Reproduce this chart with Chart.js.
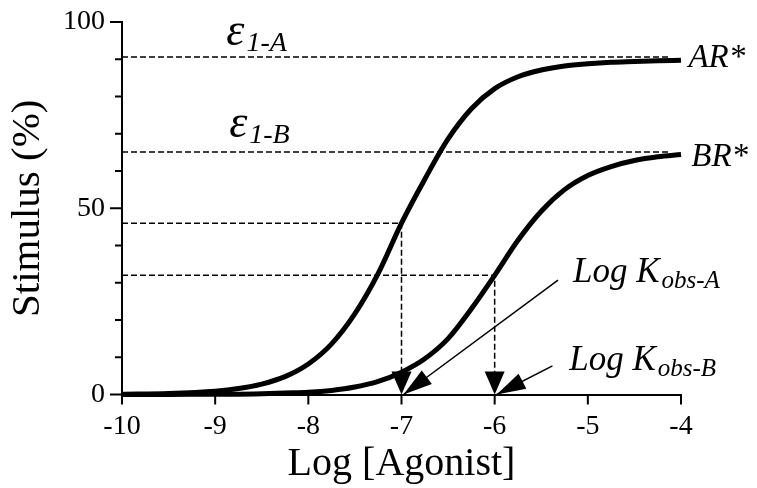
<!DOCTYPE html>
<html>
<head>
<meta charset="utf-8">
<script src="https://cdn.jsdelivr.net/npm/chart.js@4.4.0/dist/chart.umd.min.js"></script>
<style>
  html, body { margin: 0; padding: 0; background: #fff; }
  #wrap { width: 757px; height: 488px; }
</style>
</head>
<body>
<div id="wrap"><canvas id="stimChart" width="757" height="488"></canvas></div>
<script>
// Log [Agonist] sample points and stimulus (%) for the two active states
const logAgonist = [-10, -9.5, -9, -8.75, -8.5, -8.25, -8, -7.75, -7.5, -7.25, -7, -6.75, -6.5, -6.25, -6, -5.75, -5.5, -5.25, -5, -4.75, -4.5, -4.25, -4];
const stimulusAR = [0.1, 0.3, 0.9, 1.6, 2.8, 4.8, 8.2, 13.6, 21.7, 32.5, 46, 57.8, 68.6, 76.7, 82.1, 85.3, 87.1, 88.2, 88.8, 89.2, 89.4, 89.6, 89.7];
const stimulusBR = [0, 0, 0.1, 0.1, 0.2, 0.4, 0.6, 1.1, 2.0, 3.5, 6, 9.6, 15, 23, 32, 41.4, 49.2, 55, 58.8, 61.2, 62.8, 63.8, 64.4];

// efficacy plateaus, half-maximal levels and the two log Kobs values
const epsilonLevels = [90.6, 65.1];
const halfLevels = [46, 32];
const logKobs = [-7, -6];
const guideEnd = -4.12;
const arrowStarts = [[-5.32, 30.7], [-5.38, 7.7]];

const xTicks = [-10, -9, -8, -7, -6, -5, -4];
const yLabelled = [0, 50, 100];

const SERIF = "'Liberation Serif', 'Times New Roman', serif";

const pts = (xs, ys) => xs.map((v, i) => ({x: v, y: ys[i]}));

const guideStyle = {
  borderColor: '#000', borderWidth: 1.5, borderDash: [6, 3],
  pointRadius: 0, tension: 0, clip: false
};
const curveStyle = {
  borderColor: '#000', borderWidth: 5, pointRadius: 0,
  cubicInterpolationMode: 'monotone', clip: false, borderCapStyle: 'butt'
};

const datasets = [
  Object.assign({label: 'AR*', data: pts(logAgonist, stimulusAR)}, curveStyle),
  Object.assign({label: 'BR*', data: pts(logAgonist, stimulusBR)}, curveStyle)
];
epsilonLevels.forEach(lv => {
  datasets.push(Object.assign({data: [{x: -10, y: lv}, {x: guideEnd, y: lv}]}, guideStyle));
});
halfLevels.forEach((lv, i) => {
  datasets.push(Object.assign({data: [{x: -10, y: lv}, {x: logKobs[i], y: lv}, {x: logKobs[i], y: 6}]}, guideStyle));
});

// text labels: [main, subscript, x, y, main size, sub size]
const labels = [
  ['\u03b5', '1-A', -8.88, 93.8, 46, 28],
  ['\u03b5', '1-B', -8.85, 69.1, 46, 28],
  ['AR*', '', -3.92, 88.0, 33, 0],
  ['BR*', '', -3.89, 61.3, 33, 0],
  ['Log K', 'obs-A', -5.16, 30.2, 35, 25],
  ['Log K', 'obs-B', -5.2, 6.5, 35, 25]
];

function filledHead(ctx, tipX, tipY, fromX, fromY, len, half) {
  const a = Math.atan2(tipY - fromY, tipX - fromX);
  const bx = tipX - len * Math.cos(a), by = tipY - len * Math.sin(a);
  ctx.beginPath();
  ctx.moveTo(tipX, tipY);
  ctx.lineTo(bx + half * Math.sin(a), by - half * Math.cos(a));
  ctx.lineTo(bx - half * Math.sin(a), by + half * Math.cos(a));
  ctx.closePath();
  ctx.fill();
}

const annotate = {
  id: 'annotate',
  afterDraw(chart) {
    const {ctx, scales: {x, y}} = chart;
    ctx.save();
    ctx.strokeStyle = '#000';
    ctx.fillStyle = '#000';
    ctx.lineWidth = 2;

    // axis tick marks: long at labelled values, short in between
    const y0 = y.getPixelForValue(0), xl = x.getPixelForValue(-10);
    y.ticks.forEach(t => {
      const py = y.getPixelForValue(t.value);
      const len = yLabelled.includes(t.value) ? 12 : 7;
      ctx.beginPath(); ctx.moveTo(xl - len, py); ctx.lineTo(xl, py); ctx.stroke();
    });
    xTicks.forEach(v => {
      const px = x.getPixelForValue(v);
      ctx.beginPath(); ctx.moveTo(px, y0); ctx.lineTo(px, y0 + 10); ctx.stroke();
    });

    // downward arrowheads on the axis at each log Kobs
    logKobs.forEach(v => {
      const px = x.getPixelForValue(v);
      filledHead(ctx, px, y0, px, y0 - 40, 23, 10);
    });

    // pointers from the Log Kobs labels
    ctx.lineWidth = 1.5;
    arrowStarts.forEach((s, i) => {
      const sx = x.getPixelForValue(s[0]), sy = y.getPixelForValue(s[1]);
      const tx = x.getPixelForValue(logKobs[i]) + 2, ty = y0;
      ctx.beginPath(); ctx.moveTo(sx, sy); ctx.lineTo(tx, ty); ctx.stroke();
      filledHead(ctx, tx, ty, sx, sy, 29, 8.5);
    });

    // italic labels with subscripts
    ctx.textBaseline = 'alphabetic';
    ctx.textAlign = 'left';
    labels.forEach(([main, sub, lx, ly, size, subSize]) => {
      const px = x.getPixelForValue(lx), py = y.getPixelForValue(ly);
      ctx.font = `italic ${size}px ${SERIF}`;
      ctx.fillText(main, px, py);
      if (sub) {
        const w = ctx.measureText(main).width;
        ctx.font = `italic ${subSize}px ${SERIF}`;
        ctx.fillText(sub, px + w + 2, py + 6);
      }
    });
    ctx.restore();
  }
};

new Chart(document.getElementById('stimChart'), {
  type: 'scatter',
  data: {datasets: datasets.map(d => Object.assign({showLine: true}, d))},
  options: {
    responsive: false,
    animation: false,
    layout: {padding: {top: 22, right: 76, left: 0, bottom: 0}},
    plugins: {legend: {display: false}, tooltip: {enabled: false}},
    scales: {
      x: {
        type: 'linear', min: -10, max: -4,
        afterFit: s => { s.height = 93.5; },
        border: {display: true, color: '#000', width: 2},
        grid: {display: false, drawTicks: true, tickLength: 10},
        ticks: {
          stepSize: 1, padding: 5, color: '#000',
          font: {family: SERIF, size: 28},
          callback: v => String(v)
        },
        title: {
          display: true, text: 'Log [Agonist]', color: '#000',
          font: {family: SERIF, size: 40}, padding: {top: 0, bottom: 0}
        }
      },
      y: {
        type: 'linear', min: 0, max: 100,
        afterFit: s => { s.width = 122; },
        border: {display: true, color: '#000', width: 2},
        grid: {display: false, drawTicks: true, tickLength: 12},
        ticks: {
          stepSize: 10, padding: 5, color: '#000',
          font: {family: SERIF, size: 28},
          callback: v => yLabelled.includes(v) ? String(v) : ''
        },
        title: {
          display: true, text: 'Stimulus (%)', color: '#000',
          font: {family: SERIF, size: 41}, padding: {top: 4, bottom: 0}
        }
      }
    }
  },
  plugins: [annotate]
});
</script>
</body>
</html>
